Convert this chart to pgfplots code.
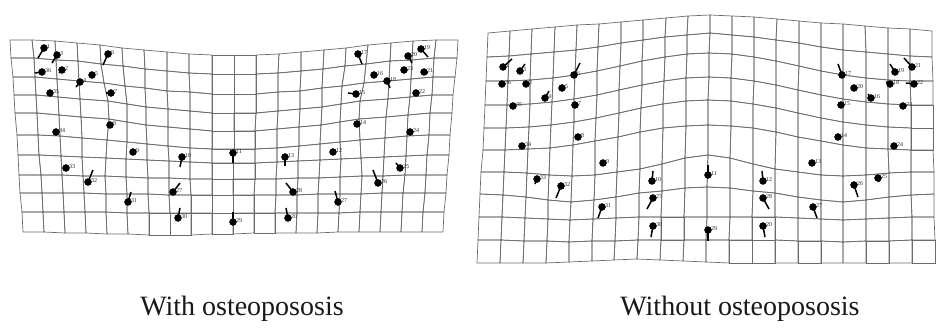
\documentclass[border=0pt]{standalone}
\usepackage{pgfplots}
\usepackage{pgfplotstable}
\pgfplotsset{compat=1.18}
\usepackage{fontspec}
\setmainfont{Liberation Serif}
\newcommand\labfont{\fontsize{6}{6}\selectfont}
\newcommand\capfont{\fontsize{28}{30}\selectfont}

% landmarks: x, y (negative pixel row), vector u v, label
\pgfplotstableread[row sep=\\]{
x y u v lab\\
44 -48 -6 -10 1\\
57 -55 -5 -8 3\\
108 -54 -5 -11 6\\
42 -72 -7 -1 36\\
62 -70 -3 -3 2\\
92 -75 0 0 5\\
80 -82 -4 -5 4\\
50 -93 0 0 35\\
111 -93 -5 0 7\\
56 -132 0 0 34\\
110 -125 0 0 8\\
133 -152 0 0 9\\
182 -157 -2 -10 10\\
66 -168 0 0 33\\
88 -182 5 12 32\\
128 -202 3 10 31\\
173 -192 7 9 27\\
178 -218 2 10 30\\
233 -153 0 -10 11\\
233 -222 0 10 29\\
285 -157 0 -9 13\\
333 -152 0 0 12\\
293 -192 -7 9 28\\
288 -218 -2 10 20\\
338 -202 -3 11 27\\
378 -183 -5 13 26\\
400 -168 -4 5 25\\
358 -54 4 -10 17\\
421 -49 7 -8 19\\
408 -56 4 -7 20\\
374 -75 0 0 16\\
387 -81 3 -7 18\\
404 -70 0 0 23\\
424 -72 4 -1 21\\
356 -94 -8 1 15\\
416 -93 0 0 22\\
357 -124 0 0 14\\
410 -132 0 0 24\\
}\lmL

\pgfplotstableread[row sep=\\]{
x y u v lab\\
503 -67 9 8 1\\
520 -71 5 7 3\\
574 -75 6 12 6\\
502 -84 0 0 36\\
526 -84 0 0 2\\
562 -88 0 0 5\\
545 -98 4 7 4\\
513 -106 0 0 35\\
575 -105 0 0 7\\
578 -137 0 0 8\\
522 -146 0 0 34\\
603 -163 0 0 9\\
537 -179 -2 -5 33\\
561 -186 -5 -12 32\\
602 -207 -4 -11 31\\
652 -181 1 10 10\\
653 -198 -6 -11 27\\
653 -226 -2 -11 30\\
708 -175 0 10 11\\
708 -230 0 -11 29\\
763 -181 -1 10 12\\
763 -198 6 -11 28\\
763 -226 2 -11 20\\
812 -163 0 0 13\\
813 -207 4 -11 27\\
854 -185 4 -12 26\\
878 -178 1 -4 25\\
894 -146 0 0 24\\
842 -75 -4 11 17\\
895 -72 -5 8 19\\
912 -67 -8 9 21\\
854 -88 0 0 20\\
871 -98 -3 4 16\\
890 -84 -4 2 18\\
914 -84 -8 1 22\\
841 -105 0 0 15\\
903 -106 0 0 23\\
838 -137 0 0 14\\
}\lmR

\begin{document}
\begin{tikzpicture}
\begin{axis}[
  view={0}{90},
  hide axis,
  scale only axis,
  width=938pt, height=331pt,
  xmin=0, xmax=938, ymin=-331, ymax=0, zmin=-1, zmax=1,
  clip=false,
  colormap={gridgray}{color=(black!58) color=(black!58)},
  point meta min=0, point meta max=1,
]
\path (axis cs:0,-331,0) rectangle (axis cs:938,0,0);

% ---- left deformation grid (11 rows x 21 columns) ----
\addplot3[mesh, mesh/cols=21, point meta=0, line width=0.7pt] table[row sep=\\, x=x, y=y, z expr=0] {
x y\\
10 -40\\ 32 -40\\ 55 -41\\ 77 -43\\ 100 -45\\ 122 -48\\ 144 -50\\ 167 -52\\ 189 -54\\ 212 -55\\ 234 -55\\ 256 -55\\ 279 -54\\ 301 -52\\ 324 -50\\ 346 -48\\ 368 -45\\ 391 -43\\ 413 -41\\ 436 -40\\ 458 -40\\
11 -58\\ 34 -58\\ 56 -60\\ 78 -61\\ 101 -64\\ 123 -66\\ 145 -69\\ 167 -71\\ 189 -73\\ 212 -74\\ 234 -74\\ 256 -74\\ 278 -73\\ 301 -71\\ 323 -69\\ 345 -66\\ 366 -64\\ 390 -61\\ 412 -60\\ 434 -58\\ 457 -58\\
13 -77\\ 35 -77\\ 57 -79\\ 79 -81\\ 104 -83\\ 125 -86\\ 145 -88\\ 167 -91\\ 190 -92\\ 212 -94\\ 234 -94\\ 256 -94\\ 278 -92\\ 300 -91\\ 322 -88\\ 342 -86\\ 364 -83\\ 389 -81\\ 411 -79\\ 433 -77\\ 455 -77\\
14 -95\\ 36 -95\\ 58 -97\\ 80 -99\\ 108 -101\\ 127 -104\\ 146 -107\\ 168 -109\\ 190 -111\\ 212 -113\\ 234 -113\\ 256 -113\\ 278 -111\\ 300 -109\\ 322 -107\\ 341 -104\\ 360 -101\\ 388 -99\\ 410 -97\\ 432 -95\\ 453 -95\\
15 -113\\ 37 -113\\ 59 -115\\ 81 -117\\ 109 -119\\ 127 -122\\ 146 -125\\ 168 -127\\ 190 -129\\ 212 -131\\ 234 -131\\ 255 -131\\ 277 -129\\ 299 -127\\ 321 -125\\ 340 -122\\ 359 -119\\ 386 -117\\ 408 -115\\ 430 -113\\ 452 -113\\
17 -135\\ 38 -135\\ 60 -136\\ 82 -138\\ 107 -140\\ 127 -142\\ 147 -144\\ 168 -146\\ 190 -148\\ 212 -149\\ 234 -149\\ 255 -149\\ 277 -148\\ 299 -146\\ 320 -144\\ 340 -142\\ 360 -140\\ 385 -138\\ 407 -136\\ 429 -135\\ 450 -135\\
18 -155\\ 39 -155\\ 61 -156\\ 82 -157\\ 106 -158\\ 126 -159\\ 147 -160\\ 169 -161\\ 190 -162\\ 212 -163\\ 233 -163\\ 255 -163\\ 277 -162\\ 298 -161\\ 320 -160\\ 341 -159\\ 361 -158\\ 384 -157\\ 406 -156\\ 427 -155\\ 449 -155\\
19 -175\\ 41 -175\\ 62 -175\\ 83 -176\\ 105 -176\\ 126 -177\\ 148 -178\\ 169 -178\\ 190 -179\\ 212 -179\\ 233 -179\\ 255 -179\\ 276 -179\\ 298 -178\\ 319 -178\\ 340 -177\\ 362 -176\\ 383 -176\\ 405 -175\\ 426 -175\\ 447 -175\\
20 -193\\ 42 -193\\ 63 -193\\ 84 -193\\ 106 -194\\ 127 -194\\ 148 -194\\ 169 -195\\ 191 -195\\ 212 -195\\ 233 -195\\ 254 -195\\ 276 -195\\ 297 -195\\ 318 -194\\ 340 -194\\ 361 -194\\ 382 -193\\ 403 -193\\ 425 -193\\ 446 -193\\
22 -212\\ 43 -212\\ 64 -212\\ 85 -212\\ 106 -212\\ 127 -213\\ 149 -213\\ 170 -213\\ 191 -213\\ 212 -213\\ 233 -213\\ 254 -213\\ 275 -213\\ 297 -213\\ 318 -213\\ 339 -213\\ 360 -212\\ 381 -212\\ 402 -212\\ 423 -212\\ 444 -212\\
23 -232\\ 44 -232\\ 65 -233\\ 86 -233\\ 107 -234\\ 128 -234\\ 149 -235\\ 170 -235\\ 191 -235\\ 212 -234\\ 233 -234\\ 254 -233\\ 275 -233\\ 296 -233\\ 317 -233\\ 338 -232\\ 359 -232\\ 380 -232\\ 401 -232\\ 422 -232\\ 443 -232\\
};

% ---- right deformation grid (11 rows x 21 columns) ----
\addplot3[mesh, mesh/cols=21, point meta=0, line width=0.7pt] table[row sep=\\, x=x, y=y, z expr=0] {
x y\\
488 -33\\ 510 -31\\ 532 -29\\ 555 -27\\ 577 -25\\ 599 -24\\ 621 -22\\ 643 -20\\ 666 -18\\ 688 -16\\ 710 -15\\ 732 -16\\ 754 -17\\ 777 -19\\ 799 -21\\ 821 -23\\ 843 -24\\ 865 -26\\ 888 -28\\ 910 -29\\ 932 -31\\
487 -57\\ 509 -56\\ 531 -54\\ 554 -52\\ 576 -50\\ 598 -47\\ 621 -43\\ 643 -40\\ 665 -37\\ 687 -35\\ 710 -33\\ 732 -35\\ 754 -37\\ 776 -40\\ 799 -43\\ 821 -47\\ 843 -50\\ 866 -52\\ 888 -54\\ 910 -56\\ 932 -57\\
486 -81\\ 508 -81\\ 530 -80\\ 553 -78\\ 575 -75\\ 597 -71\\ 620 -66\\ 642 -61\\ 665 -57\\ 687 -54\\ 709 -53\\ 732 -54\\ 754 -57\\ 776 -61\\ 799 -66\\ 821 -71\\ 843 -75\\ 866 -78\\ 888 -80\\ 910 -81\\ 933 -81\\
485 -105\\ 507 -105\\ 530 -104\\ 552 -102\\ 574 -99\\ 597 -95\\ 619 -90\\ 642 -85\\ 664 -81\\ 686 -78\\ 709 -77\\ 731 -78\\ 754 -81\\ 776 -85\\ 798 -90\\ 821 -95\\ 843 -99\\ 866 -102\\ 888 -104\\ 911 -105\\ 933 -105\\
484 -128\\ 506 -128\\ 529 -127\\ 551 -125\\ 574 -122\\ 596 -118\\ 619 -113\\ 641 -108\\ 663 -104\\ 686 -101\\ 708 -100\\ 731 -101\\ 753 -104\\ 776 -108\\ 798 -113\\ 821 -118\\ 843 -122\\ 866 -125\\ 888 -127\\ 911 -128\\ 933 -128\\
483 -150\\ 505 -150\\ 528 -149\\ 550 -148\\ 573 -145\\ 595 -141\\ 618 -137\\ 640 -132\\ 663 -128\\ 686 -126\\ 708 -125\\ 731 -126\\ 753 -128\\ 776 -132\\ 798 -137\\ 821 -141\\ 843 -145\\ 866 -148\\ 888 -149\\ 911 -150\\ 933 -150\\
481 -172\\ 504 -172\\ 527 -173\\ 549 -175\\ 572 -176\\ 595 -175\\ 617 -172\\ 640 -169\\ 662 -164\\ 685 -158\\ 708 -155\\ 730 -158\\ 753 -164\\ 775 -169\\ 798 -172\\ 821 -175\\ 843 -176\\ 866 -175\\ 889 -173\\ 911 -172\\ 934 -172\\
480 -194\\ 503 -195\\ 526 -197\\ 548 -200\\ 571 -202\\ 594 -200\\ 616 -197\\ 639 -193\\ 662 -191\\ 685 -188\\ 707 -187\\ 730 -188\\ 753 -191\\ 775 -193\\ 798 -197\\ 821 -200\\ 843 -202\\ 866 -200\\ 889 -197\\ 911 -195\\ 934 -194\\
479 -217\\ 502 -217\\ 525 -218\\ 548 -219\\ 570 -220\\ 593 -219\\ 616 -218\\ 639 -217\\ 661 -217\\ 684 -217\\ 707 -217\\ 730 -217\\ 752 -217\\ 775 -217\\ 798 -218\\ 821 -219\\ 843 -220\\ 866 -219\\ 889 -218\\ 912 -217\\ 934 -217\\
478 -240\\ 501 -240\\ 524 -241\\ 547 -241\\ 569 -242\\ 592 -241\\ 615 -241\\ 638 -240\\ 661 -240\\ 684 -240\\ 706 -240\\ 729 -240\\ 752 -240\\ 775 -240\\ 798 -241\\ 821 -241\\ 843 -242\\ 866 -241\\ 889 -241\\ 912 -240\\ 935 -240\\
477 -263\\ 500 -263\\ 523 -263\\ 546 -263\\ 569 -262\\ 592 -261\\ 614 -260\\ 637 -259\\ 660 -260\\ 683 -261\\ 706 -262\\ 729 -263\\ 752 -263\\ 775 -263\\ 798 -263\\ 821 -263\\ 843 -263\\ 866 -263\\ 889 -263\\ 912 -263\\ 935 -263\\
};

% ---- landmark displacement vectors ----
\addplot3[quiver={u=\thisrow{u}, v=\thisrow{v}, w=0}, black, line width=1.5pt] table[x=x, y=y, z expr=0] {\lmL};
\addplot3[quiver={u=\thisrow{u}, v=\thisrow{v}, w=0}, black, line width=1.5pt] table[x=x, y=y, z expr=0] {\lmR};

% ---- landmarks ----
\addplot3[only marks, mark=*, mark size=3.5pt, black,
  nodes near coords, point meta=explicit symbolic,
  nodes near coords style={font=\labfont, anchor=west, xshift=3pt, yshift=1pt, inner sep=0pt, text=black!85}]
  table[x=x, y=y, z expr=0, meta=lab] {\lmL};
\addplot3[only marks, mark=*, mark size=3.5pt, black,
  nodes near coords, point meta=explicit symbolic,
  nodes near coords style={font=\labfont, anchor=west, xshift=3pt, yshift=1pt, inner sep=0pt, text=black!85}]
  table[x=x, y=y, z expr=0, meta=lab] {\lmR};

\node[anchor=base, font=\capfont, text=black!90] at (axis cs:242,-316,0) {With osteopososis};
\node[anchor=base, font=\capfont, text=black!90] at (axis cs:740,-316,0) {Without osteopososis};
\end{axis}
\end{tikzpicture}
\end{document}
